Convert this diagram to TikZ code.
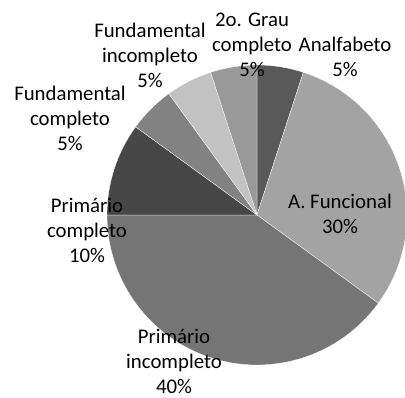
\documentclass[tikz,border=0pt]{standalone}
\usepackage{fontspec}
\setmainfont{Carlito}
\begin{document}
\begin{tikzpicture}[x=1pt,y=1pt,
  slice/.style={draw=white,line width=0.3pt},
  lbl/.style={align=center,inner sep=0pt,font=\fontsize{20.8}{25}\selectfont}]
\useasboundingbox (0,0) rectangle (405,398);
\coordinate (c) at (257,183);
\def\R{150}
\fill[slice,fill=black!65] (c) -- ++(90:\R) arc[start angle=90,end angle=72,radius=\R] -- cycle;
\fill[slice,fill=black!36] (c) -- ++(72:\R) arc[start angle=72,end angle=-36,radius=\R] -- cycle;
\fill[slice,fill=black!54] (c) -- ++(-36:\R) arc[start angle=-36,end angle=-180,radius=\R] -- cycle;
\fill[slice,fill=black!72] (c) -- ++(180:\R) arc[start angle=180,end angle=144,radius=\R] -- cycle;
\fill[slice,fill=black!49] (c) -- ++(144:\R) arc[start angle=144,end angle=126,radius=\R] -- cycle;
\fill[slice,fill=black!24] (c) -- ++(126:\R) arc[start angle=126,end angle=108,radius=\R] -- cycle;
\fill[slice,fill=black!40] (c) -- ++(108:\R) arc[start angle=108,end angle=90,radius=\R] -- cycle;
\node[lbl] (grau) at (252,353) {2o. Grau\\completo\\5\%};
\node[lbl] (anal) at (345,341) {Analfabeto\\5\%};
\node[lbl] (finc) at (150,343) {Fundamental\\incompleto\\5\%};
\node[lbl] (fcom) at (70,280) {Fundamental\\completo\\5\%};
\node[lbl] (pcom) at (87,168) {Primário\\completo\\10\%};
\node[lbl] (afun) at (340,184) {A. Funcional\\30\%};
\node[lbl] (pinc) at (174,37) {Primário\\incompleto\\40\%};
\end{tikzpicture}
\end{document}
